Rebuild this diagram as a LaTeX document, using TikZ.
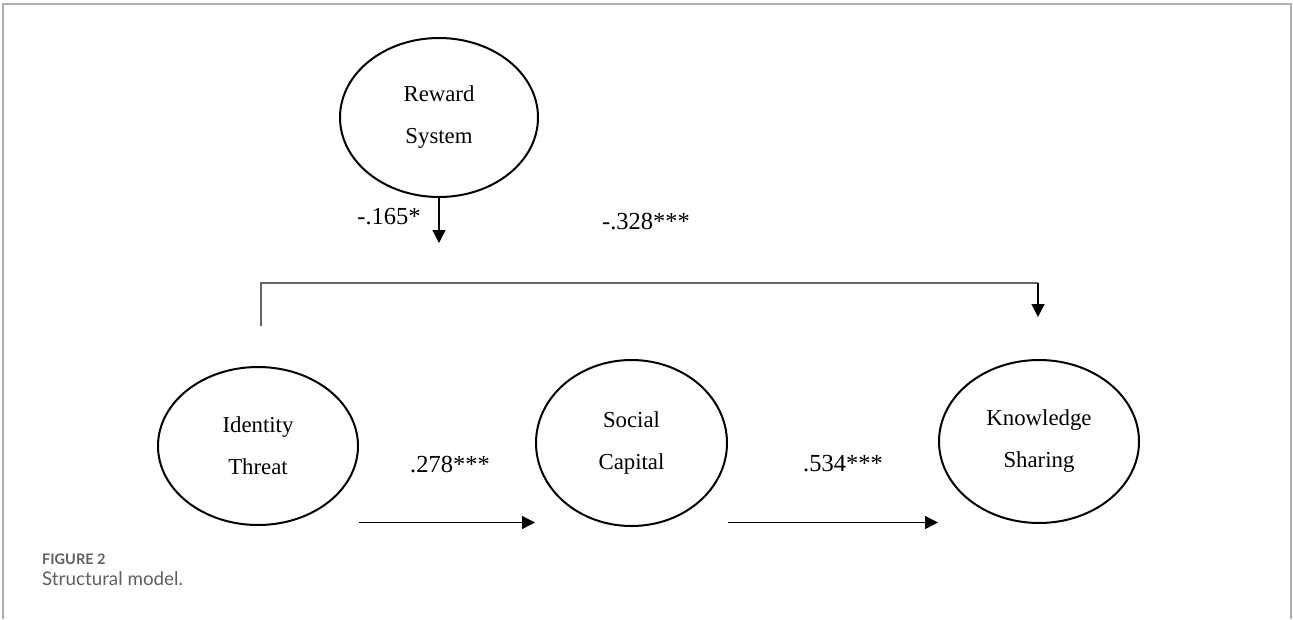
\documentclass[tikz,border=0pt]{standalone}
\usepackage{fontspec}
\setmainfont{Liberation Serif}
\newfontfamily\capfont{Lato}
\usetikzlibrary{arrows.meta,positioning,shapes.geometric}
\definecolor{frameGray}{RGB}{175,175,175}
\definecolor{capGray}{RGB}{95,95,95}
\definecolor{barGray}{RGB}{100,100,100}

\tikzset{
  construct/.style={draw=black, ellipse, line width=2pt, minimum width=200pt, minimum height=158pt, inner sep=0pt, align=center, font=\fontsize{22.8pt}{42pt}\selectfont},
  effect/.style={-{Triangle[length=13pt,width=13pt]}, line width=1.3pt},
  coef/.style={inner sep=0pt, font=\fontsize{24.5pt}{28pt}\selectfont}
}

\begin{document}
\begin{tikzpicture}[x=1pt, y=-1pt]
  \useasboundingbox (0,0) rectangle (1293,619);
  % page frame
  \draw[frameGray, line width=1.2pt] (3,619) -- (3,4) -- (1291,4) -- (1291,619);

  % constructs
  \node (reward) [construct, minimum width=198pt, minimum height=159pt] at (439,117.5) {Reward\\System};
  \node (identity) [construct] at (258,446) {Identity\\Threat};
  \node (social) [construct, minimum width=191pt, minimum height=166pt] at (631.5,443) {Social\\Capital};
  \node (knowledge) [construct, minimum height=163pt] at (1039,441.5) {Knowledge\\Sharing};

  % path coefficients
  \node (bRS) [coef] at (389,217) {-.165*};
  \node (bIK) [coef] at (646,222) {-.328***};
  \node (bIS) [coef] at (450,465) {.278***};
  \node (bSK) [coef] at (843,464) {.534***};

  % paths
  \coordinate [below=45pt of reward.south] (rewardTip);
  \draw[effect] (reward.south) -- (rewardTip);

  \coordinate (barStart) at (261,326);
  \coordinate (barCorner) at (261,283);
  \coordinate (barTip) at (1038,317);
  \draw[barGray, line width=1.3pt] (barStart) -- (barCorner) -- (barCorner -| barTip);
  \draw[effect] (barCorner -| barTip) -- (barTip);

  \coordinate (lowRow) at (0,522.5);
  \draw[effect] (identity.east |- lowRow) -- (social.west |- lowRow);
  \draw[effect] (social.east |- lowRow) -- (knowledge.west |- lowRow);

  % caption
  \node (figLabel) [anchor=base west, inner sep=0pt, text=capGray, font=\capfont\bfseries\fontsize{14.5pt}{16pt}\selectfont] at (42,564) {FIGURE 2};
  \node (figCaption) [anchor=base west, inner sep=0pt, text=capGray, font=\capfont\fontsize{18.8pt}{20pt}\selectfont] at (42,585) {Structural model.};
\end{tikzpicture}
\end{document}
